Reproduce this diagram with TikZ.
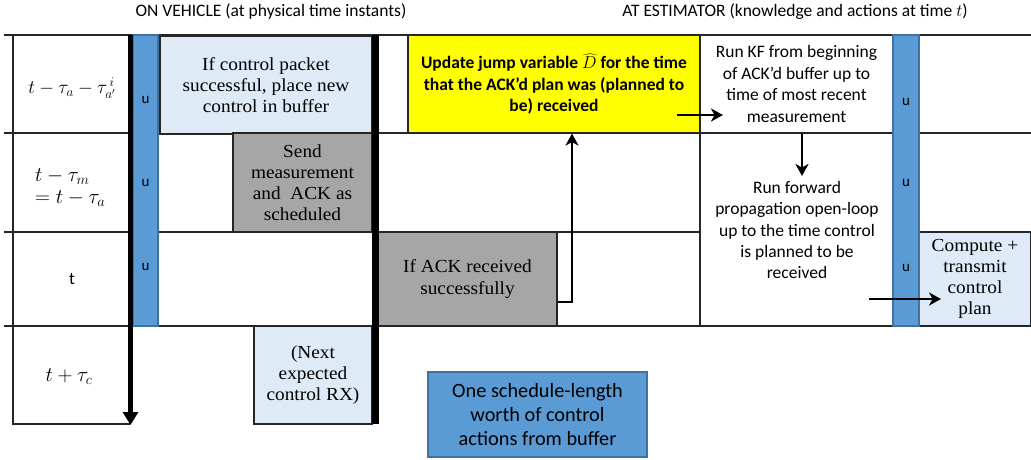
\documentclass[tikz,border=0pt]{standalone}
\usepackage{fontspec}
\setmainfont{Liberation Serif}[FakeStretch=1.05]
\setsansfont{Carlito}
\usetikzlibrary{arrows.meta}
\definecolor{ublue}{HTML}{5B9BD5}
\definecolor{ubluedark}{HTML}{41719C}
\definecolor{lblue}{HTML}{DEEBF7}
\definecolor{ugrey}{HTML}{A6A6A6}
\definecolor{uyellow}{HTML}{FFFF00}
\begin{document}
\begin{tikzpicture}[x=1pt,y=-1pt,
  gridline/.style={draw=black!85, line width=1.2pt},
  boxbase/.style={draw=black!85, line width=1.1pt, inner sep=0pt, align=center, anchor=center},
  serifbox/.style={boxbase, font=\rmfamily\fontsize{18.4}{21.2}\selectfont},
  sansbox/.style={boxbase, font=\sffamily\fontsize{17.5}{21.4}\selectfont},
  lbluebox/.style={serifbox, fill=lblue},
  greybox/.style={serifbox, fill=ugrey},
  bluebar/.style={boxbase, draw=ubluedark, fill=ublue},
  ulabel/.style={inner sep=0pt, font=\sffamily\fontsize{15}{18}\selectfont},
  titletext/.style={inner sep=0pt, font=\sffamily\fontsize{17.5}{21}\selectfont},
  labtext/.style={inner sep=0pt, font=\rmfamily\fontsize{20.7}{22}\selectfont},
  conn/.style={line width=2.4pt, -{Stealth[length=12pt,width=13pt,inset=3.5pt]}},
  timearrow/.style={line width=5pt, -{Triangle[length=13pt,width=15pt]}}
]
\useasboundingbox (0,0) rectangle (1031,459);
\fill[white] (0,0) rectangle (1031,459);

% titles
\node[titletext] (t1) at (271,12) {ON VEHICLE (at physical time instants)};
\node[titletext] (t2) at (795,12) {AT ESTIMATOR (knowledge and actions at time $t$)};

% grid
\draw[gridline] (4,35) -- (1031,35);
\draw[gridline] (4,133) -- (1031,133);
\draw[gridline] (4,232) -- (700,232);
\draw[gridline] (893,232) -- (1031,232);
\draw[gridline] (4,326) -- (1031,326);
\draw[gridline] (13,35) -- (13,424) -- (130,424);
\draw[gridline] (700,35) -- (700,326);

% vehicle side boxes
\node[lbluebox, minimum width=212pt, minimum height=98pt] (ctrl) at (266,85)
  {If control packet\\successful, place new\\control in buffer};
\node[greybox, minimum width=139pt, minimum height=99pt] (send) at (302.5,182.5)
  {Send\\measurement\\and~ ACK as\\scheduled};
\node[lbluebox, minimum width=118pt, minimum height=98pt] (next) at (313,375)
  {(Next\\expected\\control RX)};

% estimator side boxes
\node[sansbox, fill=uyellow, font=\sffamily\bfseries\fontsize{17.5}{21.4}\selectfont,
  minimum width=292pt, minimum height=98pt] (upd) at (554,84)
  {Update jump variable $\widehat{D}$ for the time\\that the ACK’d plan was (planned to\\be) received};
\node[greybox, minimum width=179pt, minimum height=94pt] (ack) at (467.5,279)
  {If ACK received\\successfully};
\node[sansbox, fill=white, minimum width=193pt, minimum height=98pt] (kf) at (796.5,84)
  {Run KF from beginning\\of ACK’d buffer up to\\time of most recent\\measurement};
\node[sansbox, draw=none] (fwd) at (797,230)
  {Run forward\\propagation open-loop\\up to the time control\\is planned to be\\received};
\node[lbluebox, minimum width=112pt, minimum height=94pt] (comp) at (975,279)
  {Compute +\\transmit\\control\\plan};
\node[sansbox, draw=ubluedark, fill=ublue, font=\sffamily\fontsize{20.3}{24}\selectfont,
  minimum width=219pt, minimum height=85pt] (sched) at (537.5,414.5)
  {One schedule-length\\worth of control\\actions from buffer};

% blue control bars
\node[bluebar, minimum width=25pt, minimum height=291pt] (bar1) at (145.5,180.5) {};
\node[bluebar, minimum width=26pt, minimum height=291pt] (bar2) at (906,180.5) {};
\node[ulabel] (u1a) at (145.5,100) {u};
\node[ulabel] (u1b) at (145.5,183) {u};
\node[ulabel] (u1c) at (145.5,267) {u};
\node[ulabel] (u2a) at (906,102) {u};
\node[ulabel] (u2b) at (906,183) {u};
\node[ulabel] (u2c) at (906,268) {u};

% left column labels
\node[labtext, scale=0.92, transform shape] (l1) at (72,88) {$t-\tau_a-\tau^{\,i}_{a'}$};
\node[labtext, anchor=west] (l2a) at (35,177) {$t-\tau_m$};
\node[labtext, anchor=west] (l2b) at (35,199) {$=t-\tau_a$};
\node[inner sep=0pt, font=\sffamily\fontsize{17.5}{21}\selectfont] (l3) at (72,279) {t};
\node[labtext] (l4) at (69,377) {$t+\tau_c$};

% black bars / time arrow
\fill[black] (372,35) rectangle (379,424);
\coordinate (vtop) at (130.5,35);
\coordinate (vbot) at (130.5,425);
\draw[timearrow] (vtop) -- (vbot);

% connectors
\draw[conn] ([yshift=-23pt]ack.east) -| ([xshift=18pt]upd.south);
\coordinate (kfin) at (677,115);
\coordinate (kfout) at (723,115);
\draw[conn] (kfin) -- (kfout);
\coordinate (fwdin) at (802,176);
\draw[conn] ([xshift=5.5pt]kf.south) -- (fwdin);
\coordinate (cmpin) at (869,299);
\coordinate (cmpout) at (941,299);
\draw[conn] (cmpin) -- (cmpout);
\end{tikzpicture}
\end{document}
